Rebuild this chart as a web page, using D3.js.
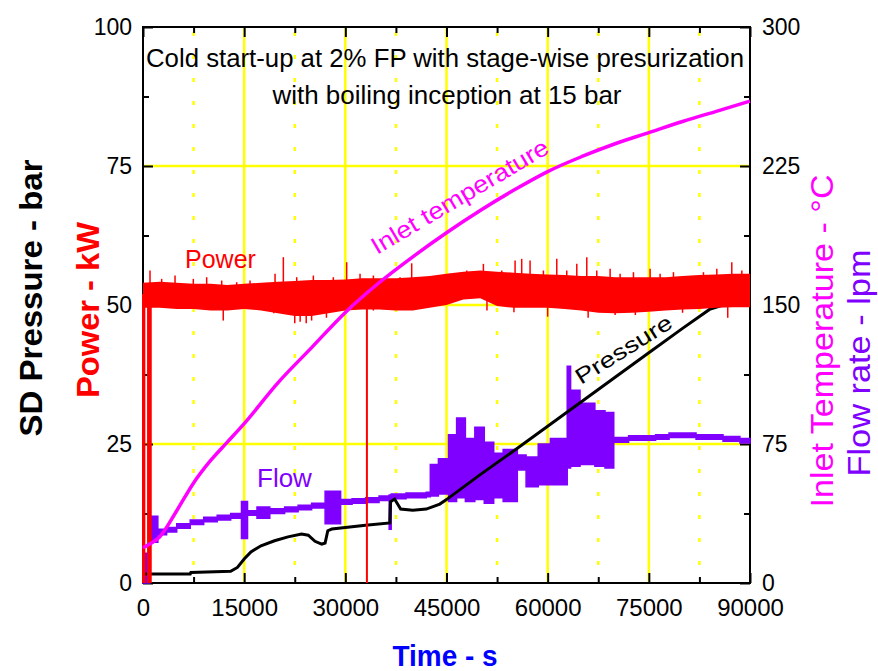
<!DOCTYPE html>
<html><head><meta charset="utf-8">
<script src="https://cdn.jsdelivr.net/npm/d3@7"></script>
<style>
body{margin:0;background:#fff}
svg{display:block}
text{font-family:'Liberation Sans',Arial,sans-serif}
</style>
</head><body>
<svg id="c" width="878" height="671"></svg>
<script>
// ---------- tick labels ----------
const timeTicks = [0, 15000, 30000, 45000, 60000, 75000, 90000];
const timeMinor = [7500, 22500, 37500, 52500, 67500, 82500];
const leftTicks = [0, 25, 50, 75, 100];
const leftMinor = [12.5, 37.5, 62.5, 87.5];
const rightTicks = [0, 75, 150, 225, 300];
const rightMinor = [37.5, 112.5, 187.5, 262.5];

// ---------- inlet temperature (°C, right axis) ----------
const tempTime = [0, 1000, 2500, 5000, 7500, 10000, 12500, 15000, 20000, 25000, 30000, 35000, 40000, 45000, 50000, 55000, 60000, 65000, 70000, 75000, 80000, 85000, 90000];
const tempValue = [19, 21, 25, 39, 54, 66, 76, 86, 108, 127, 146, 162, 176, 189, 201, 212, 222, 230, 237, 243, 249, 254.5, 260];

// ---------- SD pressure (bar, left axis) ----------
const presTime = [0, 7000, 7100, 13000, 14000, 15000, 16000, 17500, 19500, 21500, 23500, 24500, 25500, 26500, 27000, 27400, 28000, 30000, 33000, 36600, 36700, 37300, 38200, 40000, 42000, 44000, 45000, 50000, 55000, 60000, 65000, 70000, 75000, 80000, 84000, 86000, 90000];
const presValue = [1.6, 1.6, 1.9, 2.1, 2.8, 4.3, 5.6, 6.7, 7.6, 8.3, 8.8, 8.6, 7.5, 7.0, 7.2, 9.4, 9.7, 10.0, 10.4, 10.8, 14.6, 15.1, 13.3, 13.1, 13.3, 14.2, 15.0, 19.5, 23.8, 28.2, 32.6, 37.0, 41.4, 45.8, 49.2, 50, 50];

// ---------- power (kW, left axis): noise band envelope ----------
const powerTime = [0, 2500, 5000, 7500, 10000, 12500, 15000, 17500, 20000, 22500, 25000, 27500, 30000, 32500, 35000, 37500, 40000, 42500, 45000, 47500, 50000, 52500, 55000, 57500, 60000, 62500, 65000, 67500, 70000, 72500, 75000, 77500, 80000, 82500, 85000, 87500, 90000];
const powerUpper = [54.0, 54.2, 54.0, 53.8, 53.8, 53.6, 53.8, 54.0, 54.2, 54.3, 54.5, 54.5, 54.6, 54.8, 54.8, 54.8, 55.0, 55.2, 55.6, 56.0, 56.2, 56.0, 55.8, 55.6, 55.5, 55.4, 55.2, 55.2, 55.0, 55.0, 55.0, 55.0, 55.2, 55.4, 55.5, 55.6, 55.6];
const powerLower = [49.5, 49.5, 49.3, 49.3, 49.0, 49.0, 49.3, 49.0, 48.5, 48.0, 48.0, 48.5, 49.0, 49.2, 49.2, 49.0, 49.0, 49.5, 50.0, 51.0, 51.2, 49.8, 49.5, 49.5, 49.5, 49.3, 49.0, 48.6, 48.5, 48.6, 48.8, 49.0, 49.2, 49.3, 49.5, 49.6, 49.6];
// power spikes above the band
const spikeUpTime = [1040, 2770, 4750, 7460, 9440, 11670, 13890, 15870, 19580, 20810, 22790, 25260, 26500, 28220, 30200, 32180, 34160, 36140, 38110, 39840, 41570, 44040, 45530, 48000, 50470, 53190, 55170, 56150, 57390, 59370, 61350, 62830, 64320, 65800, 67280, 69260, 70740, 72720, 75190, 76670, 78650, 80630, 83100, 85080, 87300, 88790];
const spikeUpValue = [56.2, 54.7, 55.3, 54.7, 55.0, 54.4, 54.1, 54.4, 55.6, 58.6, 55.0, 55.3, 54.4, 55.0, 57.7, 55.6, 55.3, 54.7, 55.0, 57.5, 55.0, 55.3, 55.6, 56.2, 57.4, 56.2, 58.0, 58.3, 58.0, 56.2, 58.3, 56.2, 57.4, 58.6, 56.2, 56.5, 55.6, 55.9, 56.5, 55.6, 55.9, 55.0, 55.9, 56.5, 57.7, 56.2];
// power spikes below the band
const spikeDownTime = [11900, 19400, 22500, 23300, 24200, 25000, 27200, 34160, 51000, 55000, 60000, 66000, 70000, 73000, 80000, 86700];
const spikeDownValue = [47.2, 48.5, 46.7, 47.0, 46.7, 47.2, 47.7, 49.0, 49.0, 48.7, 47.9, 47.7, 48.2, 48.2, 48.6, 47.7];
// power trips to zero
const dipTime = [0, 200, 750, 950, 1150, 33200];
const dipValue = [0, 0, 0, 0, 0, 0];

// ---------- flow rate (lpm, right axis): min/max envelope ----------
const flowTime = [0, 1000, 2200, 3500, 5000, 7000, 9000, 11000, 13000, 14600, 15500, 16900, 18800, 21000, 23000, 25000, 27000, 29300, 31000, 33000, 35000, 36500, 36800, 39000, 42000, 42600, 43800, 45300, 46500, 47800, 49200, 50600, 52000, 53400, 55500, 56800, 58600, 60400, 62900, 63400, 64800, 67000, 68500, 69800, 72000, 76000, 78000, 82000, 86000, 88500, 90000];
const flowLow = [0, 22, 26, 27.5, 29.5, 31.5, 33, 34, 35, 24, 36.5, 35, 37.5, 38.5, 39.5, 40.5, 32, 42.5, 43, 43.5, 44.5, 29, 45.5, 46, 46.5, 47, 48, 44, 46, 44, 45, 43, 46, 44, 61, 52, 53, 53, 62, 63, 64, 63, 62, 76, 77, 77.5, 78.5, 77.5, 76.5, 75.5, 75.5];
const flowHigh = [16, 36, 29, 30, 32, 34, 35.5, 36.5, 37.5, 44, 39, 41, 40, 41, 42, 43, 49.5, 45, 45.5, 46, 47, 47.5, 48, 48.5, 49, 64, 67, 80, 89, 78, 84, 76, 70, 72, 69, 68, 75, 78, 117, 104, 97, 93, 92, 78.5, 79.5, 80, 81, 80, 79, 78, 78];

// ---------- drawing ----------
const svg = d3.select('#c');
const x = d3.scaleLinear().domain([0, 90000]).range([143, 750]);
const yL = d3.scaleLinear().domain([0, 100]).range([583, 27]);
const yR = d3.scaleLinear().domain([0, 300]).range([583, 27]);

const YEL = '#ffff00', RED = '#ff0000', MAG = '#ff00ff', PUR = '#8000ff';

// grid
const grid = svg.append('g');
grid.selectAll('line.vmaj').data(timeTicks.slice(1, -1)).join('line')
  .attr('x1', d => x(d)).attr('x2', d => x(d)).attr('y1', yL(0)).attr('y2', yL(100))
  .attr('stroke', YEL).attr('stroke-width', 2.5);
grid.selectAll('line.hmaj').data(leftTicks.slice(1, -1)).join('line')
  .attr('class', 'hmaj')
  .attr('x1', x(0)).attr('x2', x(90000)).attr('y1', d => yL(d)).attr('y2', d => yL(d))
  .attr('stroke', YEL).attr('stroke-width', 2.5);
grid.selectAll('line.vmin').data(timeMinor).join('line')
  .attr('class', 'vmin')
  .attr('x1', d => x(d)).attr('x2', d => x(d)).attr('y1', yL(100)).attr('y2', yL(0))
  .attr('stroke', YEL).attr('stroke-width', 2.5)
  .attr('stroke-dasharray', '4,19').attr('stroke-dashoffset', 18);

// axes
function styleAxis(g, fs) {
  g.select('.domain').remove();
  g.selectAll('line').attr('stroke', '#000').attr('stroke-width', 2);
  g.selectAll('text').attr('font-size', fs).attr('fill', '#000')
    .attr('font-family', "'Liberation Sans', Arial, sans-serif");
}
const fmt = d3.format('d');
svg.append('g').attr('transform', `translate(${x(0)},0)`)
  .call(d3.axisLeft(yL).tickValues(leftTicks).tickSize(-10).tickPadding(11).tickFormat(fmt))
  .call(g => styleAxis(g, 23));
svg.append('g').attr('transform', `translate(${x(0)},0)`)
  .call(d3.axisLeft(yL).tickValues(leftMinor).tickSize(-6).tickFormat(''))
  .call(g => styleAxis(g, 23));
svg.append('g').attr('transform', `translate(${x(90000)},0)`)
  .call(d3.axisRight(yR).tickValues(rightTicks).tickSize(-10).tickPadding(12).tickFormat(fmt))
  .call(g => styleAxis(g, 23));
svg.append('g').attr('transform', `translate(${x(90000)},0)`)
  .call(d3.axisRight(yR).tickValues(rightMinor).tickSize(-6).tickFormat(''))
  .call(g => styleAxis(g, 23));
svg.append('g').attr('transform', `translate(0,${yL(0)})`)
  .call(d3.axisBottom(x).tickValues(timeTicks).tickSize(-10).tickPadding(16).tickFormat(fmt))
  .call(g => styleAxis(g, 24));
svg.append('g').attr('transform', `translate(0,${yL(0)})`)
  .call(d3.axisBottom(x).tickValues(timeMinor).tickSize(-6).tickFormat(''))
  .call(g => styleAxis(g, 24));
svg.append('g').attr('transform', `translate(0,${yL(100)})`)
  .call(d3.axisTop(x).tickValues(timeTicks).tickSize(-10).tickFormat(''))
  .call(g => styleAxis(g, 24));
svg.append('g').attr('transform', `translate(0,${yL(100)})`)
  .call(d3.axisTop(x).tickValues(timeMinor).tickSize(-6).tickFormat(''))
  .call(g => styleAxis(g, 24));
svg.append('rect').attr('x', x(0)).attr('y', yL(100))
  .attr('width', x(90000) - x(0)).attr('height', yL(0) - yL(100))
  .attr('fill', 'none').attr('stroke', '#000').attr('stroke-width', 2);

// flow (purple)
const flowData = flowTime.map((t, i) => ({t, lo: flowLow[i], hi: flowHigh[i]}));
svg.append('path').datum(flowData)
  .attr('d', d3.area().curve(d3.curveStepAfter).x(d => x(d.t)).y0(d => yR(d.lo)).y1(d => yR(d.hi)))
  .attr('fill', PUR).attr('stroke', PUR).attr('stroke-width', 1.5).attr('stroke-linejoin', 'miter');

// pressure (black)
const presData = presTime.map((t, i) => ({t, v: presValue[i]}));
svg.append('path').datum(presData)
  .attr('d', d3.line().x(d => x(d.t)).y(d => yL(d.v)))
  .attr('fill', 'none').attr('stroke', '#000').attr('stroke-width', 3);

// power (red)
const powData = powerTime.map((t, i) => ({t, lo: powerLower[i], hi: powerUpper[i]}));
svg.append('path').datum(powData)
  .attr('d', d3.area().x(d => x(d.t)).y0(d => yL(d.lo)).y1(d => yL(d.hi)))
  .attr('fill', RED);
const pw = svg.append('g').attr('stroke', RED);
pw.selectAll('line.up').data(spikeUpTime.map((t, i) => ({t, v: spikeUpValue[i]}))).join('line')
  .attr('class', 'up')
  .attr('x1', d => x(d.t)).attr('x2', d => x(d.t)).attr('y1', yL(52)).attr('y2', d => yL(d.v))
  .attr('stroke-width', 1.5);
pw.selectAll('line.dn').data(spikeDownTime.map((t, i) => ({t, v: spikeDownValue[i]}))).join('line')
  .attr('class', 'dn')
  .attr('x1', d => x(d.t)).attr('x2', d => x(d.t)).attr('y1', yL(52)).attr('y2', d => yL(d.v))
  .attr('stroke-width', 1.5);
pw.selectAll('line.dip').data(dipTime.map((t, i) => ({t, v: dipValue[i]}))).join('line')
  .attr('class', 'dip')
  .attr('x1', d => x(d.t)).attr('x2', d => x(d.t)).attr('y1', yL(52)).attr('y2', d => yL(d.v))
  .attr('stroke-width', 2);

// inlet temperature (magenta)
const tempData = tempTime.map((t, i) => ({t, v: tempValue[i]}));
svg.append('path').datum(tempData)
  .attr('d', d3.line().curve(d3.curveMonotoneX).x(d => x(d.t)).y(d => yR(d.v)))
  .attr('fill', 'none').attr('stroke', MAG).attr('stroke-width', 3.5);

// ---------- texts ----------
function txt(s, o) {
  const t = svg.append('text').text(s);
  for (const k in o) t.attr(k, o[k]);
  return t;
}
txt('Cold start-up at 2% FP with stage-wise presurization',
  {x: 445, y: 67, 'text-anchor': 'middle', 'font-size': 25, textLength: 598, lengthAdjust: 'spacingAndGlyphs', fill: '#000'});
txt('with boiling inception at 15 bar',
  {x: 447, y: 104, 'text-anchor': 'middle', 'font-size': 25, textLength: 349, lengthAdjust: 'spacingAndGlyphs', fill: '#000'});

txt('Power', {x: 185, y: 268, 'font-size': 25, fill: RED});
txt('Flow', {x: 257, y: 487, 'font-size': 26, fill: PUR});
txt('Inlet temperature', {x: 0, y: 0, transform: 'translate(377,255) rotate(-30.6)', 'font-size': 24,
  textLength: 202, lengthAdjust: 'spacingAndGlyphs', fill: MAG});
txt('Pressure', {x: 0, y: 0, transform: 'translate(581,385) rotate(-32)', 'font-size': 22,
  textLength: 110, lengthAdjust: 'spacingAndGlyphs', fill: '#000'});

txt('SD Pressure - bar', {x: 0, y: 0, transform: 'translate(42,298) rotate(-90)', 'text-anchor': 'middle',
  'font-size': 32, 'font-weight': 'bold', textLength: 277, lengthAdjust: 'spacingAndGlyphs', fill: '#000'});
txt('Power - kW', {x: 0, y: 0, transform: 'translate(99,310) rotate(-90)', 'text-anchor': 'middle',
  'font-size': 32, 'font-weight': 'bold', textLength: 176, lengthAdjust: 'spacingAndGlyphs', fill: RED});
txt('Inlet Temperature - °C', {x: 0, y: 0, transform: 'translate(833,341) rotate(-90)', 'text-anchor': 'middle',
  'font-size': 31, textLength: 333, lengthAdjust: 'spacingAndGlyphs', fill: MAG});
txt('Flow rate - lpm', {x: 0, y: 0, transform: 'translate(870,363) rotate(-90)', 'text-anchor': 'middle',
  'font-size': 31, textLength: 227, lengthAdjust: 'spacingAndGlyphs', fill: PUR});
txt('Time - s', {x: 445, y: 666, 'text-anchor': 'middle', 'font-size': 30, 'font-weight': 'bold',
  textLength: 105, lengthAdjust: 'spacingAndGlyphs', fill: '#0000ff'});
</script>
</body></html>
